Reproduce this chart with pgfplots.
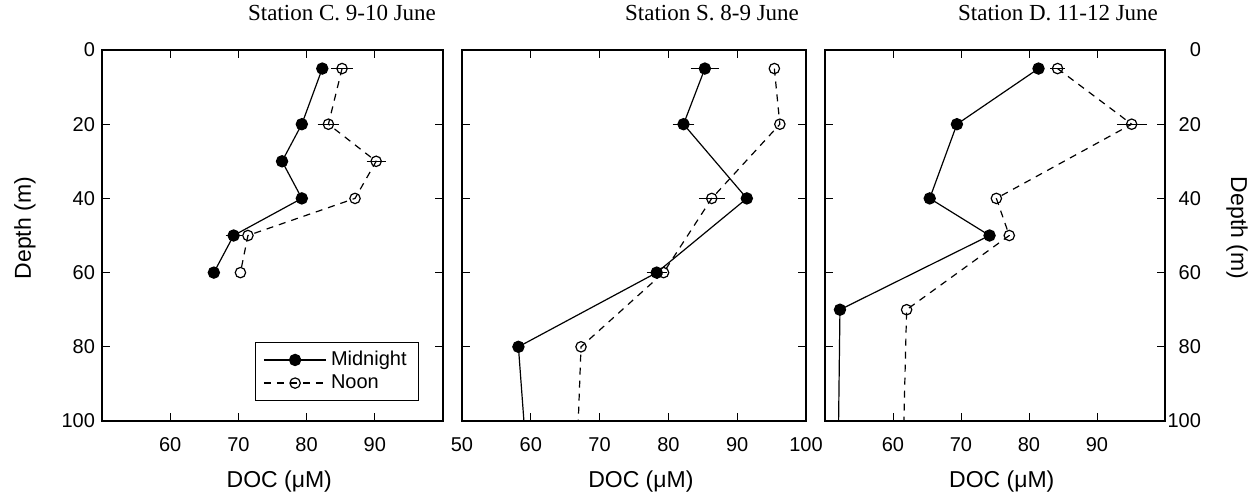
\documentclass[border=0pt]{standalone}
\usepackage{fontspec}
\setmainfont{Liberation Sans}
\newfontfamily\titlefont{Liberation Serif}
\usepackage{pgfplots}
\pgfplotsset{compat=1.18}
\begin{document}
\begin{tikzpicture}
\useasboundingbox (0,0) rectangle (625pt,247pt);
\pgfplotsset{
 panel/.style={
  scale only axis, height=185.5pt, anchor=south west,
  y dir=reverse, ymin=0, ymax=100, xmin=50, xmax=100,
  ytick={0,20,...,100},
  tick align=inside, tick style={black, line width=0.5pt}, major tick length=4pt,
  axis line style={line width=0.6pt},
  /pgf/number format/assume math mode=true,
  ticklabel style={font=\fontsize{10}{12}\selectfont},
  label style={font=\fontsize{11.5}{13}\selectfont},
  xlabel={DOC (μM)},
  xlabel style={at={(axis description cs:0.52,-0.164)}, anchor=center},
  xticklabel style={yshift=-4.5pt},
  title style={at={(axis description cs:1,1)}, anchor=base east, yshift=9pt, font=\titlefont\fontsize{11.5}{13}\selectfont},
  legend image code/.code={\draw[mark repeat=2,mark phase=2,##1] plot coordinates {(0cm,0cm) (0.55cm,0cm) (1.1cm,0cm)};},
 },
 mid/.style={black, line width=0.6pt, solid, mark=*, mark size=2.8pt, mark options={solid, fill=black}},
 noon/.style={black, line width=0.6pt, dash pattern=on 3.5pt off 3pt, mark=o, mark size=2.6pt, mark options={solid, fill=white}},
 eb/.style={draw=none, mark=none, forget plot, error bars/.cd, x dir=both, x explicit,
   error bar style={draw=black, solid, line width=0.5pt},
   error mark options={draw=black, solid, line width=0.5pt, mark size=2pt}},
}
% ---------- Station C ----------
\begin{axis}[panel, at={(51pt,36.5pt)}, width=170.5pt,
  xtick={60,70,80,90},
  ylabel={Depth (m)},
  ylabel style={at={(axis description cs:-0.226,0.52)}, anchor=center},
  title={Station C. 9-10 June},
  legend style={at={(axis description cs:0.93,0.054)}, anchor=south east, draw=black, line width=0.5pt,
    font=\fontsize{10}{11.5}\selectfont, cells={anchor=west}, inner xsep=4pt, inner ysep=2.5pt, row sep=-1pt}]
\addplot[eb] coordinates {(85.2,5) +- (1.0,0) (83.2,20) +- (1.0,0) (90.2,30) +- (0.8,0) (69.3,50) +- (0.6,0)};
\addplot[mid] coordinates {(82.3,5) (79.3,20) (76.4,30) (79.3,40) (69.3,50) (66.4,60)};
\addlegendentry{Midnight}
\addplot[noon] coordinates {(85.2,5) (83.2,20) (90.2,30) (87.1,40) (71.4,50) (70.3,60)};
\addlegendentry{Noon}
\end{axis}
% ---------- Station S ----------
\begin{axis}[panel, at={(231pt,36.5pt)}, width=172pt,
  xtick={50,60,...,100}, yticklabels={},
  title={Station S. 8-9 June}]
\addplot[eb] coordinates {(85.3,5) +- (1.5,0) (82.2,20) +- (1.0,0) (78.3,60) +- (0.9,0) (86.3,40) +- (1.3,0)};
\addplot[mid, mark indices={1,2,3,4,5}] coordinates {(85.3,5) (82.2,20) (91.4,40) (78.3,60) (58.2,80) (59.0,100)};
\addplot[noon, mark indices={1,2,3,4,5}] coordinates {(95.4,5) (96.2,20) (86.3,40) (79.3,60) (67.3,80) (66.9,100)};
\end{axis}
% ---------- Station D ----------
\begin{axis}[panel, at={(412.5pt,36.5pt)}, width=170pt,
  xtick={60,70,80,90},
  yticklabel pos=right,
  yticklabel style={anchor=east, xshift=21.5pt},
  ylabel={Depth (m)},
  ylabel style={at={(axis description cs:1.212,0.52)}, anchor=center, rotate=180},
  title={Station D. 11-12 June}]
\addplot[eb] coordinates {(95.1,20) +- (1.6,0) (84.2,5) +- (0.5,0)};
\addplot[mid, mark indices={1,2,3,4,5}] coordinates {(81.4,5) (69.4,20) (65.4,40) (74.2,50) (52.2,70) (52.0,100)};
\addplot[noon, mark indices={1,2,3,4,5}] coordinates {(84.2,5) (95.1,20) (75.2,40) (77.1,50) (62.0,70) (61.6,100)};
\end{axis}
\end{tikzpicture}
\end{document}
